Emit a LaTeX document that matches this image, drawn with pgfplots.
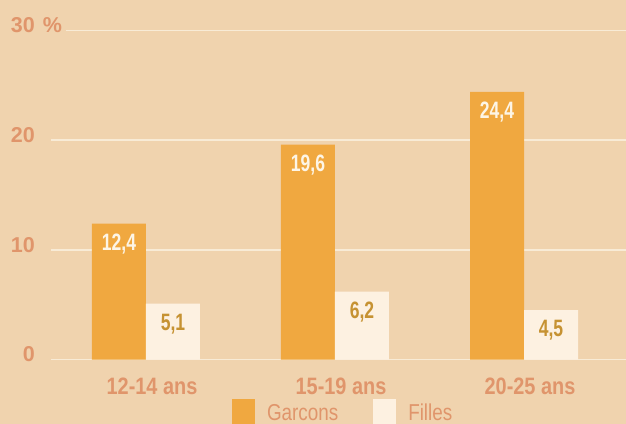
\documentclass[border=0pt]{standalone}
\usepackage{pgfplots}
\pgfplotsset{compat=1.18}
\usepackage{fontspec}
\setmainfont{Liberation Sans}
\newfontfamily\xlabfont[FakeStretch=0.84]{Liberation Sans}
\newfontfamily\valfont[FakeStretch=0.74]{Liberation Sans}
\newfontfamily\legfont[FakeStretch=0.82]{Liberation Sans}
\definecolor{bg}{HTML}{F0D3AE}
\definecolor{orangebar}{HTML}{F0A840}
\definecolor{creambar}{HTML}{FDF1E1}
\definecolor{gridc}{HTML}{F8EBD6}
\definecolor{salmon}{HTML}{E0956B}
\definecolor{gold}{HTML}{C69232}
\definecolor{whitelab}{HTML}{FDF5E6}
\begin{document}
\begin{tikzpicture}
\useasboundingbox (0,0) rectangle (626bp,424bp);
\clip (0,0) rectangle (626bp,424bp);
\fill[bg] (0,0) rectangle (626bp,424bp);
\begin{axis}[
  at={(51bp,64.5bp)}, anchor=south west,
  scale only axis, width=575bp, height=329bp,
  xmin=-0.5026, xmax=2.5397, ymin=0, ymax=30,
  /pgf/number format/assume math mode=true,
  axis line style={draw=none}, tick style={draw=none},
  ybar=0pt, bar width=54bp,
  xtick={0,1,2}, xticklabels={12-14 ans,15-19 ans,20-25 ans},
  ytick={0,10,20,30}, yticklabels={0,10,20,{30\rlap{\hspace{8bp}\%}}},
  xticklabel style={font=\xlabfont\bfseries\fontsize{23.7bp}{28bp}\selectfont, text=salmon, anchor=north, inner sep=0pt, yshift=-13.5bp, xshift=6bp},
  yticklabel style={font=\bfseries\fontsize{21.5bp}{26bp}\selectfont, text=salmon, anchor=east, inner sep=0pt, xshift=-16bp, yshift=5bp},
  nodes near coords={\pgfmathprintnumber[use comma, fixed, fixed zerofill, precision=1]{\pgfplotspointmeta}},
  every node near coord/.append style={font=\valfont\bfseries\fontsize{23.7bp}{28bp}\selectfont, anchor=north, inner sep=0pt, yshift=-10bp},
  legend style={at={(0.3148,-0.1201)}, anchor=north west, draw=none, fill=none, inner sep=0pt, outer sep=0pt,
    font=\legfont\fontsize{23bp}{28bp}\selectfont, text=salmon,
    /tikz/every odd column/.append style={column sep=10bp},
    /tikz/every even column/.append style={column sep=33bp},
    cells={anchor=base west, inner sep=0pt}},
  legend columns=2,
  legend image code/.code={\fill[#1] (0bp,-8bp) rectangle (23bp,21.5bp);},
  clip=false,
]
\draw[gridc, line width=1.8bp] (axis cs:-0.5026,0) -- (axis cs:2.5397,0);
\draw[gridc, line width=1.8bp] (axis cs:-0.5026,10) -- (axis cs:2.5397,10);
\draw[gridc, line width=1.8bp] (axis cs:-0.5026,20) -- (axis cs:2.5397,20);
\draw[gridc, line width=1.8bp] (axis cs:-0.4233,30) -- (axis cs:2.5397,30);
\addplot[fill=orangebar, draw=none, nodes near coords style={text=whitelab}] coordinates {(0,12.4) (1,19.6) (2,24.4)};
\addplot[fill=creambar, draw=none, nodes near coords style={text=gold}] coordinates {(0,5.1) (1,6.2) (2,4.5)};
\legend{Garcons,Filles}
\end{axis}
\end{tikzpicture}
\end{document}
